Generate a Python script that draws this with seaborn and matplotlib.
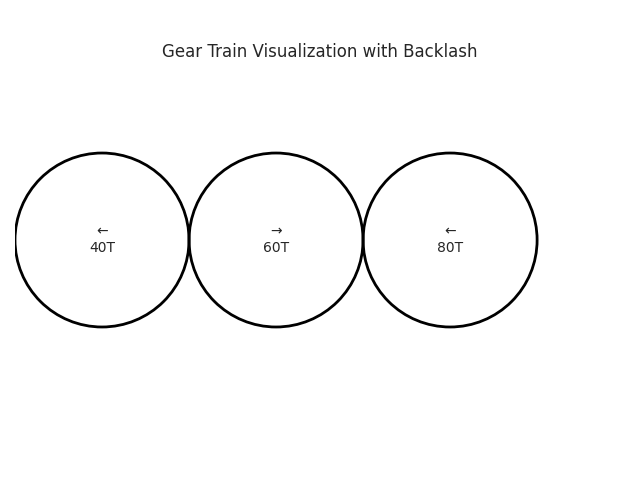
import matplotlib
matplotlib.use("Agg")
import matplotlib.pyplot as plt
import seaborn as sns

sns.set_style("white")
plt.rcParams['font.family'] = ['DejaVu Sans']

teeth = [40, 60, 80]
directions = ["←", "→", "←"]
centers_x = [0, 2, 4]
radius = 1.0

fig = plt.figure(figsize=(6.4, 4.8), dpi=100)
ax = fig.add_axes([15 / 640, 1 - 427.2 / 480, 610 / 640, 369.6 / 480])
for x, t, d in zip(centers_x, teeth, directions):
    ax.add_patch(plt.Circle((x, 0), radius, fill=False, color="black", lw=2))
    ax.text(x, 0, f"{d}\n{t}T", ha="center", va="center", fontsize=10)

ax.set_xlim(-1.0, 6.01)
ax.set_ylim(-2.152, 2.097)
ax.axis("off")
fig.suptitle("Gear Train Visualization with Backlash", y=1 - 52 / 480, va="center", fontsize=12)
fig.savefig("out.png", dpi=100)
